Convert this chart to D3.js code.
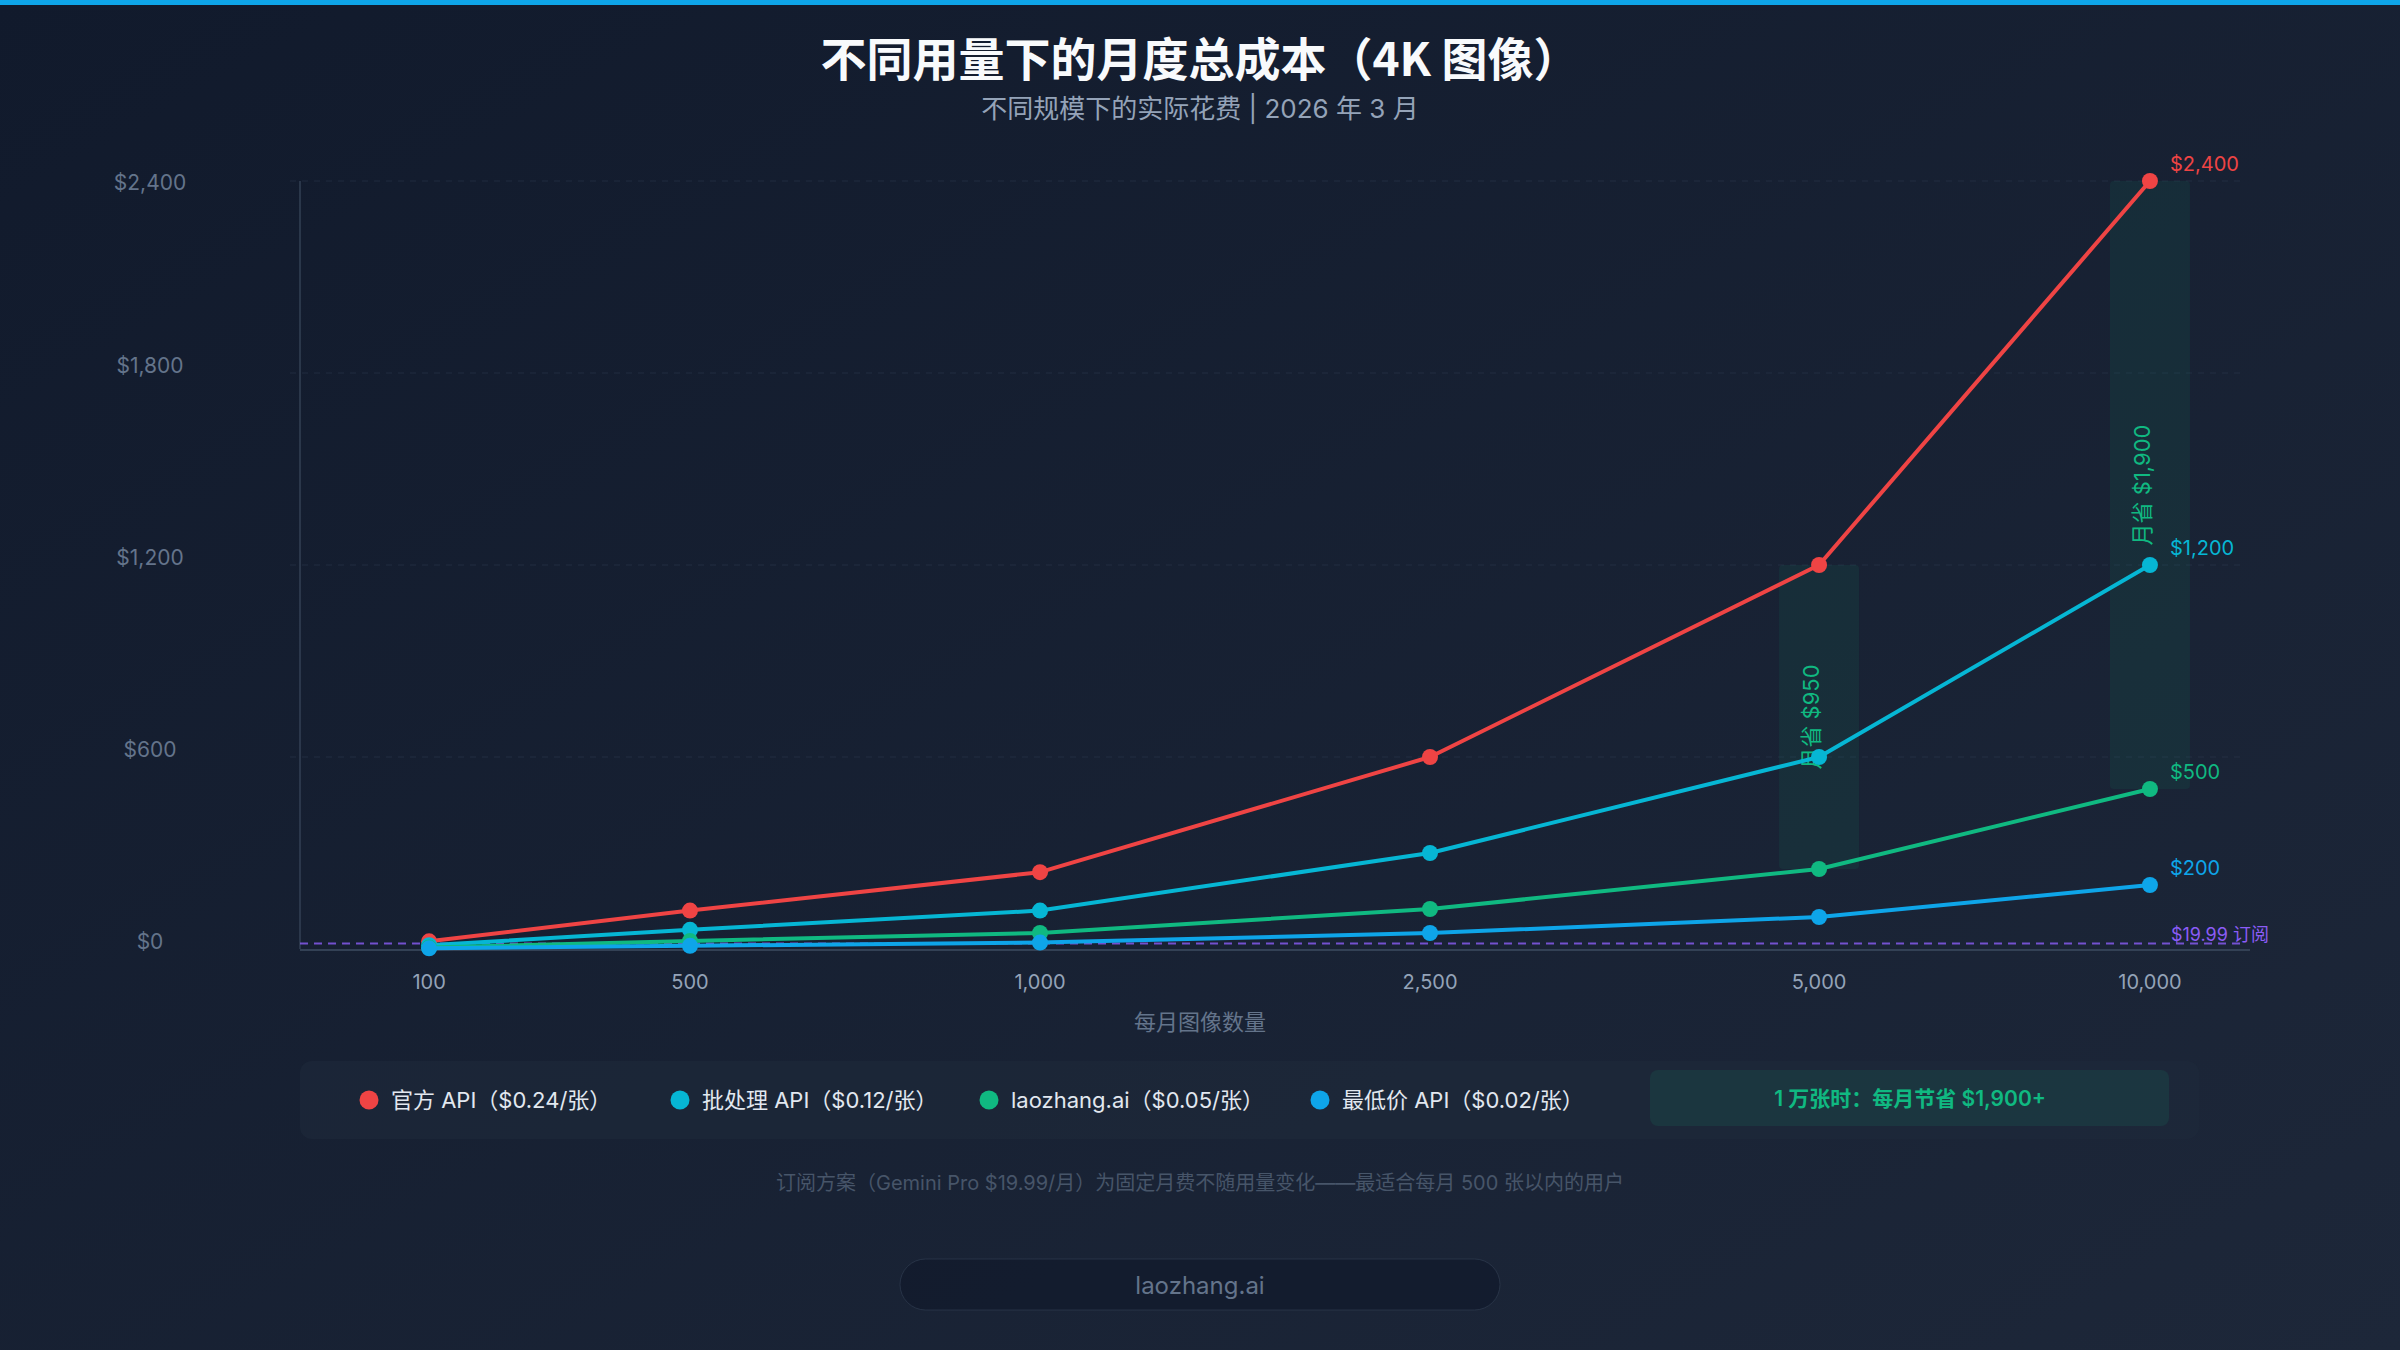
<!DOCTYPE html>
<html><head><meta charset="utf-8">
<script src="https://cdn.jsdelivr.net/npm/d3@7"></script>
<style>html,body{margin:0;padding:0;background:#111a2d;} svg{display:block}</style>
</head><body><svg id="c" width="2400" height="1350"></svg>
<script>
// ---------- DATA ----------
const volumes = [100, 500, 1000, 2500, 5000, 10000];
const volumeLabels = ["100", "500", "1,000", "2,500", "5,000", "10,000"];
const seriesNames = ["官方 API（$0.24/张）", "批处理 API（$0.12/张）", "laozhang.ai（$0.05/张）", "最低价 API（$0.02/张）"];
const officialCost = [24, 120, 240, 600, 1200, 2400];
const batchCost = [12, 60, 120, 300, 600, 1200];
const laozhangCost = [5, 25, 50, 125, 250, 500];
const cheapestCost = [2, 10, 20, 50, 100, 200];
const endLabels = ["$2,400", "$1,200", "$500", "$200"];
const yTicks = [0, 600, 1200, 1800, 2400];
const yTickLabels = ["$0", "$600", "$1,200", "$1,800", "$2,400"];
const subscriptionCost = 19.99;
const subscriptionLabel = "$19.99 订阅";
const savingsVolumes = [5000, 10000];
const savingsLabels = ["月省 $950", "月省 $1,900"];
const titleText = "不同用量下的月度总成本（4K 图像）";
const subtitleText = "不同规模下的实际花费 | 2026 年 3 月";
const xTitleText = "每月图像数量";
const calloutText = "1 万张时：每月节省 $1,900+";
const footnoteText = "订阅方案（Gemini Pro $19.99/月）为固定月费不随用量变化——最适合每月 500 张以内的用户";
const brandText = "laozhang.ai";

// ---------- LAYOUT / STYLE ----------
const W = 2400, H = 1350;
const plot = {left: 300, right: 2250, top: 181, bottom: 949};
const xStopFracs = [0.0662, 0.2, 0.3795, 0.5795, 0.779, 0.9487];
const colors = ["#ef4444", "#06b6d4", "#10b981", "#0ea5e9"];
const legendDotX = [369, 680, 989, 1320];
const latin = "Inter, 'Noto Sans CJK SC', sans-serif";
const cjk = "'Noto Sans CJK SC', Inter, sans-serif";

const series = [officialCost, batchCost, laozhangCost, cheapestCost];

const svg = d3.select("#c");
const defs = svg.append("defs");
const bg = defs.append("linearGradient").attr("id", "bg").attr("x1", 0).attr("y1", 0).attr("x2", 1).attr("y2", 1);
bg.append("stop").attr("offset", 0).attr("stop-color", "#111a2c");
bg.append("stop").attr("offset", 1).attr("stop-color", "#1d2739");
svg.append("rect").attr("width", W).attr("height", H).attr("fill", "url(#bg)");
svg.append("rect").attr("width", W).attr("height", 5).attr("fill", "#0ea5e9");

const x = d3.scaleLinear().domain(volumes)
  .range(xStopFracs.map(f => plot.left + f * (plot.right - plot.left)));
const y = d3.scaleLinear().domain([0, 2400]).range([plot.bottom, plot.top]);

// title
svg.append("text").attr("x", W / 2).attr("y", 56).attr("text-anchor", "middle")
  .attr("dominant-baseline", "central").attr("font-family", cjk).attr("font-weight", 700)
  .attr("font-size", 46).attr("fill", "#f8fafc").text(titleText);
svg.append("text").attr("x", W / 2).attr("y", 108).attr("text-anchor", "middle")
  .attr("dominant-baseline", "central").attr("font-family", latin)
  .attr("font-size", 26).attr("fill", "#94a3b8").text(subtitleText);

// grid
svg.append("g").selectAll("line").data(yTicks.filter(v => v > 0)).join("line")
  .attr("x1", plot.left - 10).attr("x2", plot.right - 5)
  .attr("y1", d => y(d)).attr("y2", d => y(d))
  .attr("stroke", "#334155").attr("stroke-opacity", 0.45).attr("stroke-width", 1.2)
  .attr("stroke-dasharray", "6,6");

// savings highlight rects
const savingIdx = savingsVolumes.map(v => volumes.indexOf(v));
svg.append("g").selectAll("rect").data(savingIdx).join("rect")
  .attr("x", i => x(volumes[i]) - 40).attr("width", 80)
  .attr("y", i => y(officialCost[i])).attr("height", i => y(laozhangCost[i]) - y(officialCost[i]))
  .attr("rx", 4).attr("fill", "#10b981").attr("fill-opacity", 0.08);
svg.append("g").selectAll("text").data(savingIdx).join("text")
  .attr("transform", i => `translate(${x(volumes[i])},${(y(officialCost[i]) + y(laozhangCost[i])) / 2}) rotate(-90)`)
  .attr("text-anchor", "middle").attr("font-family", latin).attr("font-size", 22)
  .attr("fill", "#10b981").text((i, k) => savingsLabels[k]);

// axes lines
svg.append("line").attr("x1", plot.left).attr("x2", plot.left).attr("y1", plot.top).attr("y2", plot.bottom)
  .attr("stroke", "#334155").attr("stroke-width", 1.5);
svg.append("line").attr("x1", plot.left).attr("x2", plot.right).attr("y1", plot.bottom + 1).attr("y2", plot.bottom + 1)
  .attr("stroke", "#334155").attr("stroke-width", 2);

// subscription line
svg.append("line").attr("x1", plot.left).attr("x2", plot.right - 5)
  .attr("y1", y(subscriptionCost) + 1).attr("y2", y(subscriptionCost) + 1)
  .attr("stroke", "#8b5cf6").attr("stroke-opacity", 0.8).attr("stroke-width", 2).attr("stroke-dasharray", "8,6");
svg.append("text").attr("x", x(10000) + 21).attr("y", y(subscriptionCost) - 2)
  .attr("font-family", latin).attr("font-size", 18).attr("fill", "#8b5cf6").text(subscriptionLabel);

// series
const line = d3.line().x(d => x(d[0])).y(d => y(d[1]));
series.forEach((vals, s) => {
  const pts = volumes.map((v, i) => [v, vals[i]]);
  const g = svg.append("g");
  g.append("path").attr("d", line(pts)).attr("fill", "none").attr("stroke", colors[s])
    .attr("stroke-width", 4).attr("stroke-linejoin", "round");
  g.selectAll("circle").data(pts).join("circle")
    .attr("cx", d => x(d[0])).attr("cy", d => y(d[1])).attr("r", 8).attr("fill", colors[s]);
  const last = pts[pts.length - 1];
  g.append("text").attr("x", x(last[0]) + 20).attr("y", y(last[1]) - 10)
    .attr("font-family", latin).attr("font-size", 20).attr("fill", colors[s]).text(endLabels[s]);
});

// y tick labels
svg.append("g").selectAll("text").data(yTicks).join("text")
  .attr("x", 150).attr("y", d => Math.max(y(d) - 8, y(2400) + 1))
  .attr("text-anchor", "middle").attr("dominant-baseline", "central")
  .attr("font-family", latin).attr("font-size", 21).attr("fill", "#64748b")
  .text((d, i) => yTickLabels[i]);

// x tick labels
svg.append("g").selectAll("text").data(volumes).join("text")
  .attr("x", d => x(d)).attr("y", 982)
  .attr("text-anchor", "middle").attr("dominant-baseline", "central")
  .attr("font-family", latin).attr("font-size", 20).attr("fill", "#94a3b8")
  .text((d, i) => volumeLabels[i]);
svg.append("text").attr("x", W / 2).attr("y", 1020).attr("text-anchor", "middle")
  .attr("dominant-baseline", "central").attr("font-family", cjk).attr("font-size", 22)
  .attr("fill", "#64748b").text(xTitleText);

// legend
svg.append("rect").attr("x", 300).attr("y", 1061).attr("width", 1899).attr("height", 78).attr("rx", 12)
  .attr("fill", "#1e293b").attr("fill-opacity", 0.6);
const lg = svg.append("g").selectAll("g").data(seriesNames).join("g");
lg.append("circle").attr("cx", (d, i) => legendDotX[i]).attr("cy", 1100).attr("r", 9.5)
  .attr("fill", (d, i) => colors[i]);
lg.append("text").attr("x", (d, i) => legendDotX[i] + 22).attr("y", 1100)
  .attr("dominant-baseline", "central").attr("font-family", latin).attr("font-size", 22)
  .attr("fill", "#e2e8f0").text(d => d);

svg.append("rect").attr("x", 1650).attr("y", 1070).attr("width", 519).attr("height", 56).attr("rx", 8)
  .attr("fill", "#10b981").attr("fill-opacity", 0.1);
svg.append("text").attr("x", 1910).attr("y", 1098).attr("text-anchor", "middle")
  .attr("dominant-baseline", "central").attr("font-family", latin).attr("font-weight", 600)
  .attr("font-size", 21).attr("fill", "#10b981").text(calloutText);

// footnote
svg.append("text").attr("x", W / 2).attr("y", 1183).attr("text-anchor", "middle")
  .attr("dominant-baseline", "central").attr("font-family", latin).attr("font-size", 20)
  .attr("fill", "#475569").text(footnoteText);

// brand pill
svg.append("rect").attr("x", 900).attr("y", 1259).attr("width", 600).attr("height", 51).attr("rx", 25.5)
  .attr("fill", "#0f172a").attr("fill-opacity", 0.6).attr("stroke", "#334155").attr("stroke-opacity", 0.6);
svg.append("text").attr("x", W / 2).attr("y", 1285).attr("text-anchor", "middle")
  .attr("dominant-baseline", "central").attr("font-family", latin).attr("font-size", 24)
  .attr("fill", "#64748b").text(brandText);
</script></body></html>
